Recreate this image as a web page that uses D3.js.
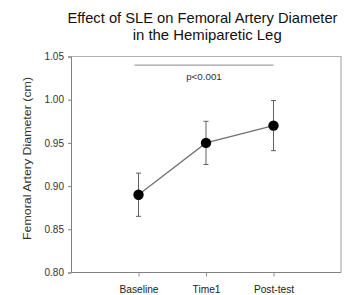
<!DOCTYPE html>
<html><head><meta charset="utf-8">
<script src="https://cdn.jsdelivr.net/npm/d3@7"></script>
<style>body{margin:0;background:#fff;}svg{display:block;font-family:"Liberation Sans",Arial,sans-serif;}</style>
</head><body>
<svg id="c" width="345" height="295"></svg>
<script>
const categories = ["Baseline", "Time1", "Post-test"];
const means = [0.89, 0.95, 0.97];
const errors = [0.025, 0.025, 0.029];
const yTicks = [0.80, 0.85, 0.90, 0.95, 1.00, 1.05];
const sigBar = {from: -0.06, to: 2.0, value: 1.040, label: "p<0.001"};

const svg = d3.select("#c");
const L = 71, R = 341, T = 56.5, B = 272.5;
const x = d3.scaleLinear().domain([0, 4]).range([L, R]);
const y = d3.scaleLinear().domain([0.80, 1.05]).range([B, T]);
const xi = i => x(i + 1);

// frame
svg.append("path").attr("d", `M${L},${T}H${R}V${B}`).attr("fill","none").attr("stroke","#b0b0b0").attr("stroke-width",1.2);

// y axis
const ya = svg.append("g").attr("transform",`translate(${L},0)`)
  .call(d3.axisLeft(y).tickValues(yTicks).tickFormat(d3.format(".2f")).tickSize(3).tickPadding(4));
ya.select(".domain").attr("stroke","#808080");
ya.selectAll(".tick line").attr("stroke","#808080");
ya.selectAll("text").attr("font-size","10px").attr("fill","#333").attr("font-family","Liberation Sans, Arial, sans-serif");

// x axis
const xa = svg.append("g").attr("transform",`translate(0,${B})`)
  .call(d3.axisBottom(x).tickValues([1,2,3]).tickFormat((d)=>categories[d-1]).tickSize(4).tickPadding(9).tickSizeOuter(0));
xa.select(".domain").attr("stroke","#808080").attr("d", `M${L},0H${R}`);
xa.selectAll(".tick line").attr("stroke","#909090");
xa.selectAll("text").attr("font-size","10.2px").attr("fill","#222").attr("font-family","Liberation Sans, Arial, sans-serif");

// y label
svg.append("text").attr("transform",`translate(31,158.5) rotate(-90)`).attr("text-anchor","middle")
  .attr("font-size","11.5px").attr("fill","#333")
  .attr("textLength",163).attr("lengthAdjust","spacingAndGlyphs")
  .text("Femoral Artery Diameter (cm)");

// title
svg.append("text").attr("text-anchor","middle").attr("font-size","15px").attr("fill","#111")
  .attr("x",202.5).attr("y",23.3).attr("textLength",270).attr("lengthAdjust","spacingAndGlyphs")
  .text("Effect of SLE on Femoral Artery Diameter");
svg.append("text").attr("text-anchor","middle").attr("font-size","15px").attr("fill","#111")
  .attr("x",207.2).attr("y",40).attr("textLength",149).attr("lengthAdjust","spacingAndGlyphs")
  .text("in the Hemiparetic Leg");

// significance bar
svg.append("line").attr("x1",xi(sigBar.from)).attr("x2",xi(sigBar.to))
  .attr("y1",y(sigBar.value)).attr("y2",y(sigBar.value)).attr("stroke","#a0a0a0").attr("stroke-width",1.2);
svg.append("text").attr("x",(xi(sigBar.from)+xi(sigBar.to))/2).attr("y",y(sigBar.value)+15)
  .attr("text-anchor","middle").attr("font-size","9.8px").attr("fill","#333").text(sigBar.label);

// line
const data = categories.map((c,i)=>({i, m:means[i], e:errors[i]}));
svg.append("path").datum(data).attr("fill","none").attr("stroke","#707070").attr("stroke-width",1.2)
  .attr("d", d3.line().x(d=>xi(d.i)).y(d=>y(d.m)));

// error bars
const eb = svg.append("g").attr("stroke","#606060").attr("stroke-width",1);
data.forEach(d=>{
  eb.append("line").attr("x1",xi(d.i)).attr("x2",xi(d.i)).attr("y1",y(d.m-d.e)).attr("y2",y(d.m+d.e));
  [d.m-d.e, d.m+d.e].forEach(v=>eb.append("line").attr("x1",xi(d.i)-2.5).attr("x2",xi(d.i)+2.5).attr("y1",y(v)).attr("y2",y(v)));
});

// points
svg.append("g").selectAll("circle").data(data).join("circle")
  .attr("cx",d=>xi(d.i)).attr("cy",d=>y(d.m)).attr("r",5.2).attr("fill","#000");
</script>
</body></html>
